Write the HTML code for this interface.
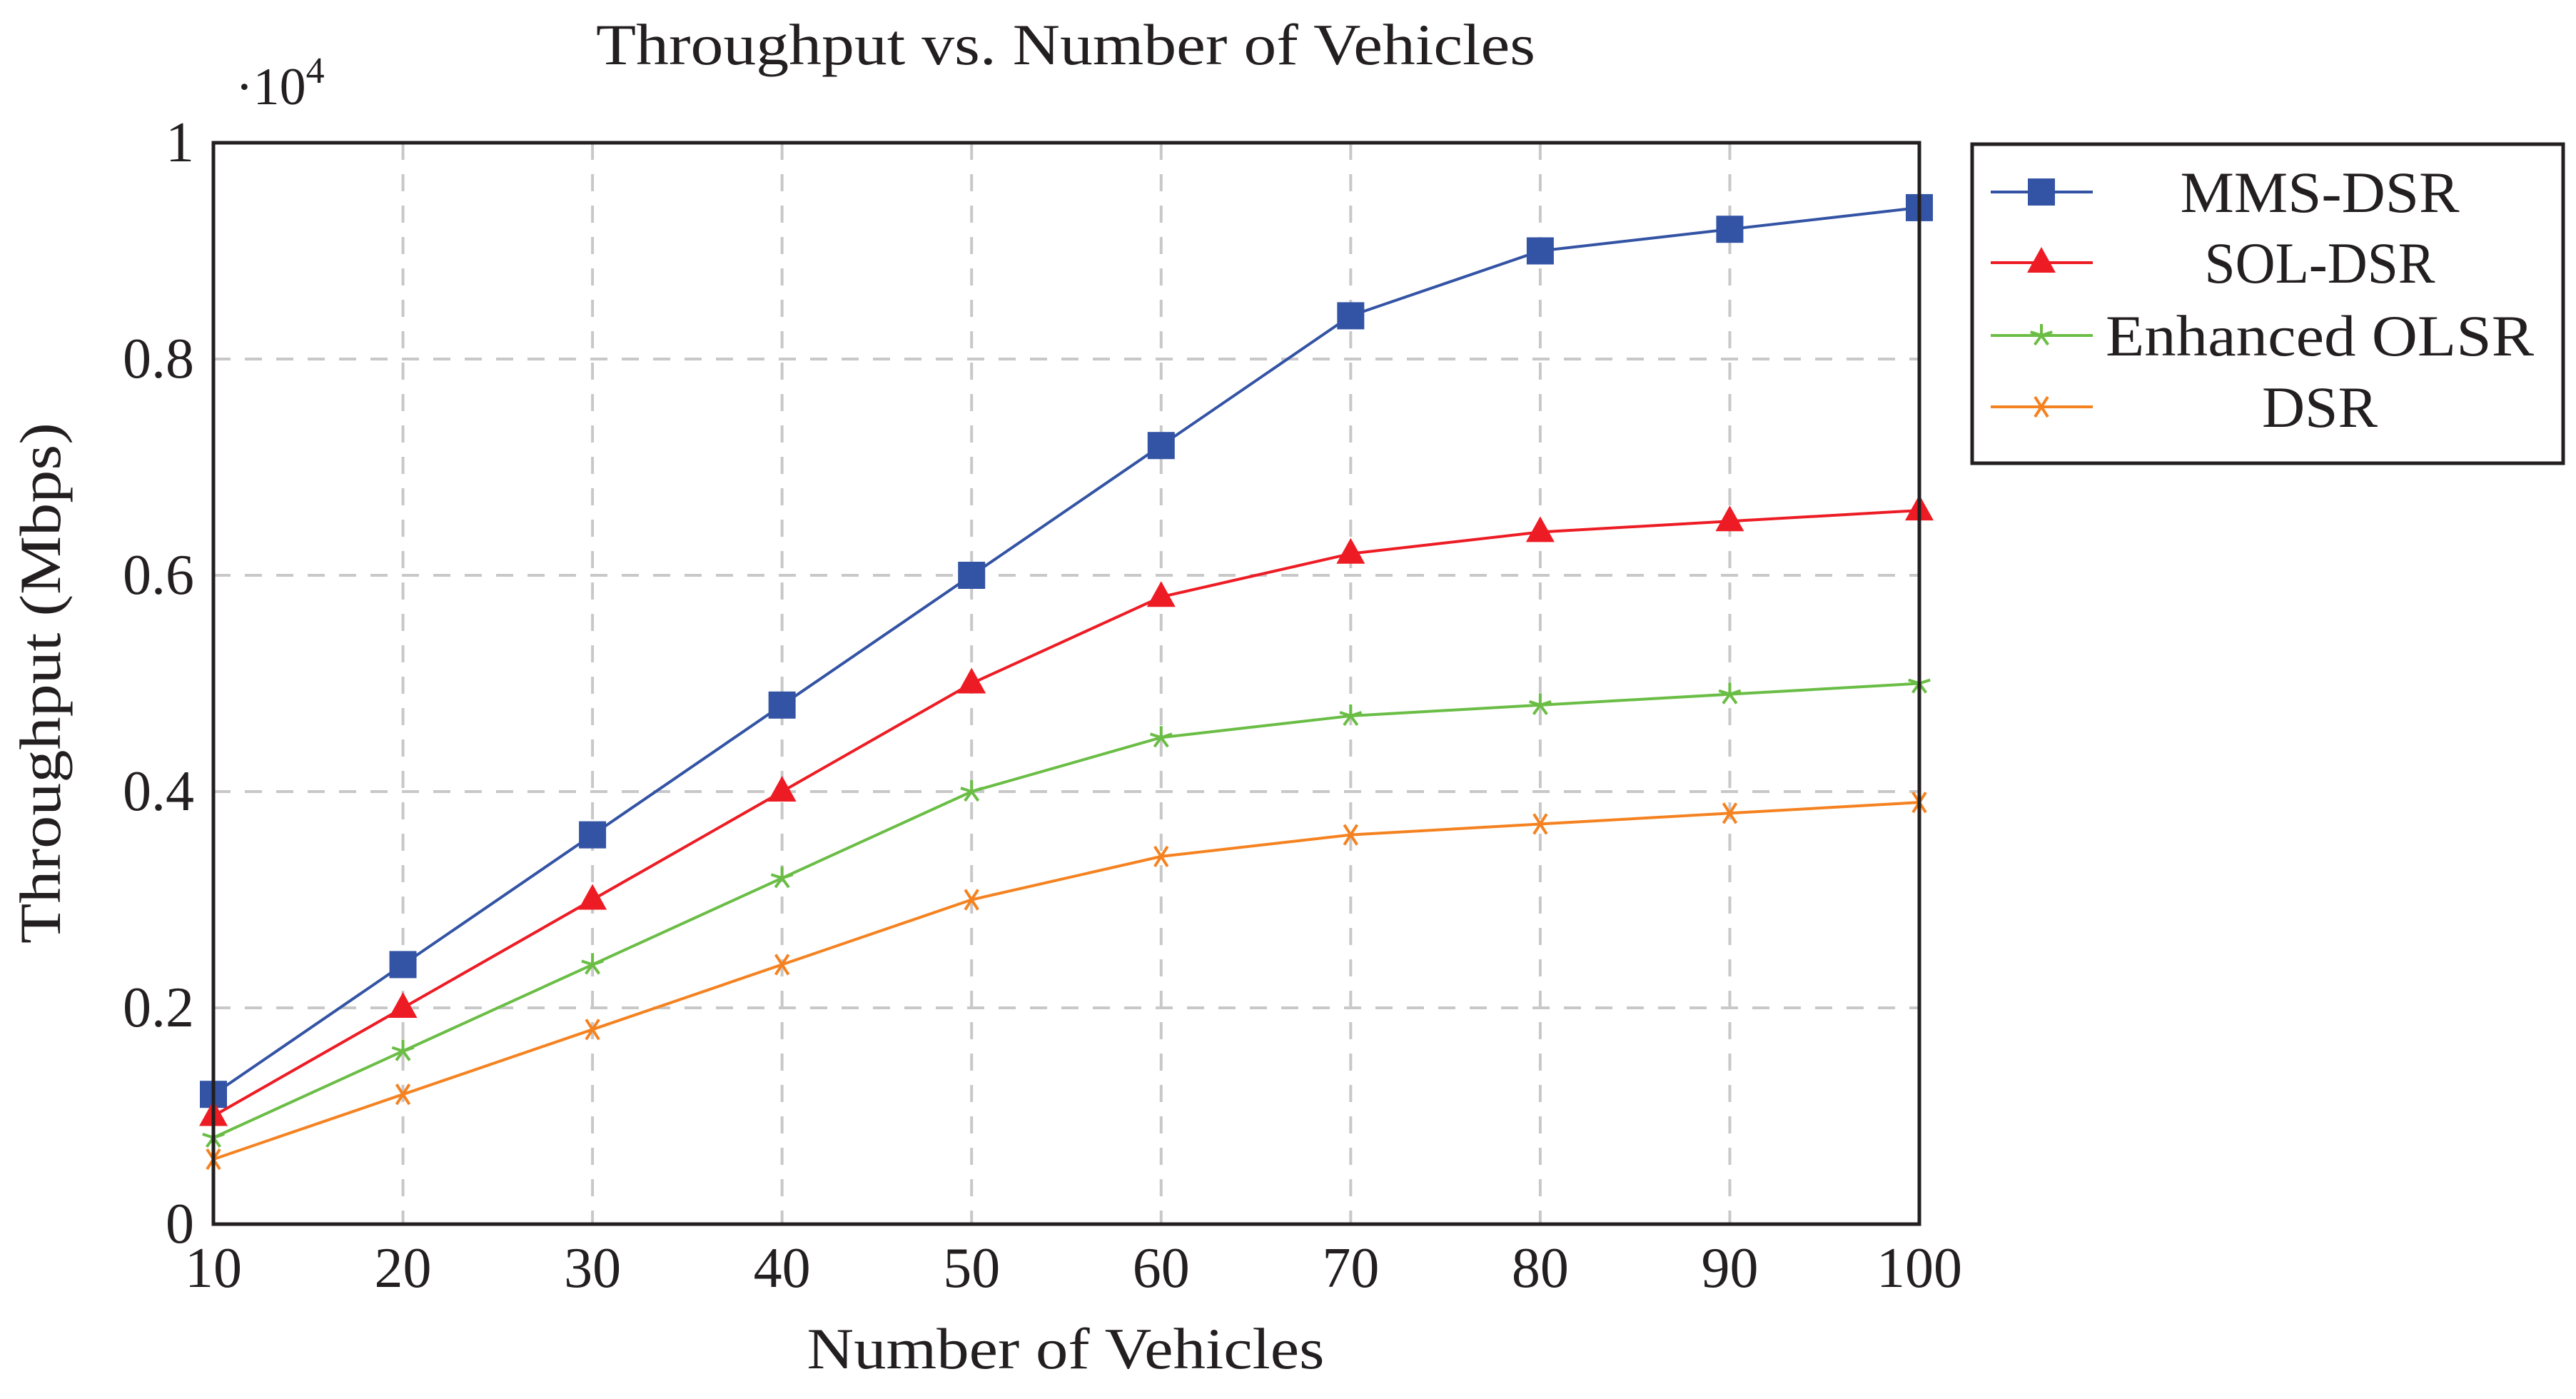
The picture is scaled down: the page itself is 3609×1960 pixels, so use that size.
<!DOCTYPE html>
<html><head><meta charset="utf-8"><style>
html,body{margin:0;padding:0;background:#fff;}
svg text{font-family:"Liberation Serif",serif;fill:#231f20;}
</style></head><body>
<svg id="chart" width="3609" height="1955" xmlns="http://www.w3.org/2000/svg">
<text x="1493" y="90" font-size="82" text-anchor="middle" textLength="1316" lengthAdjust="spacingAndGlyphs">Throughput vs. Number of Vehicles</text>
<text x="330" y="146" font-size="74">·10<tspan font-size="52" dy="-30">4</tspan></text>
<text transform="translate(84,957) rotate(-90)" font-size="82" text-anchor="middle" textLength="730" lengthAdjust="spacingAndGlyphs">Throughput (Mbps)</text>
<text x="1493" y="1917" font-size="82" text-anchor="middle" textLength="725" lengthAdjust="spacingAndGlyphs">Number of Vehicles</text>
<g id="grid"></g>
<g id="ticks"></g>
<g id="series"></g>
<rect x="299" y="200" width="2390" height="1515" fill="none" stroke="#231f20" stroke-width="5"/>
<g id="legend"></g>
</svg>
<script>
const categories=[10,20,30,40,50,60,70,80,90,100];
const mmsDsr=[1200,2400,3600,4800,6000,7200,8400,9000,9200,9400];
const solDsr=[1000,2000,3000,4000,5000,5800,6200,6400,6500,6600];
const enhancedOlsr=[800,1600,2400,3200,4000,4500,4700,4800,4900,5000];
const dsr=[600,1200,1800,2400,3000,3400,3600,3700,3800,3900];
const yTicks=[0,2000,4000,6000,8000,10000];
const yTickLabels=["0","0.2","0.4","0.6","0.8","1"];
const xTickLabels=["10","20","30","40","50","60","70","80","90","100"];
const seriesNames=["MMS-DSR","SOL-DSR","Enhanced OLSR","DSR"];

const NS="http://www.w3.org/2000/svg";
const L=299,R=2689,T=200,B=1715;
const xs=v=>L+(v-10)/90*(R-L);
const ys=v=>B-v/10000*(B-T);
function mk(tag,attrs,parent){const e=document.createElementNS(NS,tag);for(const k in attrs)e.setAttribute(k,attrs[k]);parent.appendChild(e);return e;}
const grid=document.getElementById('grid'),ticks=document.getElementById('ticks'),ser=document.getElementById('series'),leg=document.getElementById('legend');
categories.forEach((c,i)=>{
  const x=xs(c);
  if(i>0&&i<categories.length-1){const g=mk('line',{x1:x,x2:x,y1:T,y2:B,stroke:'#c8c8c8','stroke-width':4,'stroke-dasharray':'24 20'},grid);
  
  }
  const t=mk('text',{x:x,y:1803,'font-size':80,'text-anchor':'middle'},ticks);t.textContent=xTickLabels[i];
  
  
});
yTicks.forEach((v,i)=>{
  const y=ys(v);
  if(i>0&&i<yTicks.length-1){const g=mk('line',{x1:L,x2:R,y1:y,y2:y,stroke:'#c8c8c8','stroke-width':4,'stroke-dasharray':'24 20'},grid);
  
  }
  const t=mk('text',{x:272,y:y+26,'font-size':80,'text-anchor':'end'},ticks);t.textContent=yTickLabels[i];
  
  
});
function marker(type,x,y,color,parent){
  let m;
  if(type==='square')m=mk('rect',{x:x-19,y:y-19,width:38,height:38,fill:color},parent);
  else if(type==='tri')m=mk('polygon',{points:`${x},${y-22} ${x-20},${y+14} ${x+20},${y+14}`,fill:color},parent);
  else if(type==='star'){m=mk('g',{stroke:color,'stroke-width':4},parent);
    for(const a of [90,18,162,234,306]){const r=a*Math.PI/180;mk('line',{x1:x,y1:y,x2:x+16*Math.cos(r),y2:y-16*Math.sin(r)},m);}}
  else {m=mk('g',{stroke:color,'stroke-width':4},parent);
    mk('line',{x1:x-9,y1:y-14,x2:x+9,y2:y+14},m);mk('line',{x1:x+9,y1:y-14,x2:x-9,y2:y+14},m);}
  return m;
}
const all=[[mmsDsr,'#3353a4','square'],[solDsr,'#ed1c24','tri'],[enhancedOlsr,'#6abd45','star'],[dsr,'#f58220','x']];
all.forEach(([vals,color,type],si)=>{
  const g=mk('g',{},ser);
  
  
  const p=mk('polyline',{points:vals.map((v,i)=>xs(categories[i])+','+ys(v)).join(' '),fill:'none',stroke:color,'stroke-width':4},g);
  
  
  vals.forEach((v,i)=>{const m=marker(type,xs(categories[i]),ys(v),color,g);
    
    });
});
const box=mk('rect',{x:2763,y:202,width:828,height:447,fill:'#fff',stroke:'#231f20','stroke-width':5},leg);


const rowY=[269,368,470,570];
const legWidths=[391,323,600,162];
all.forEach(([vals,color,type],si)=>{
  const g=mk('g',{},leg);
  
  
  mk('line',{x1:2789,x2:2932,y1:rowY[si],y2:rowY[si],stroke:color,'stroke-width':4},g);
  marker(type,2860,rowY[si],color,g);
  const t=mk('text',{x:3250,y:rowY[si]+28,'font-size':82,'text-anchor':'middle',textLength:legWidths[si],lengthAdjust:'spacingAndGlyphs'},g);t.textContent=seriesNames[si];
});
</script>
</body></html>
